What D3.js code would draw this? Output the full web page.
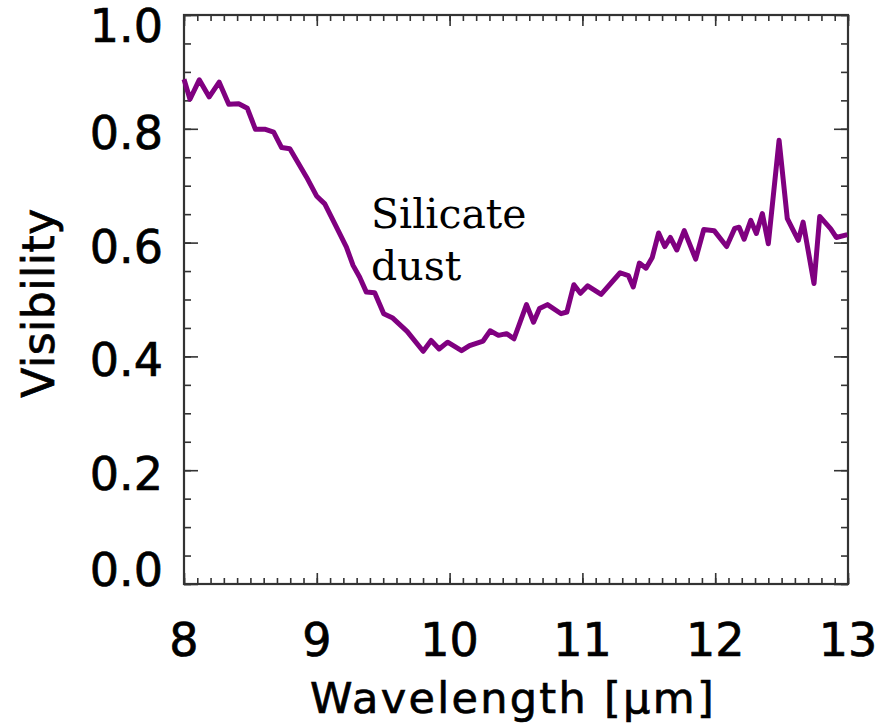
<!DOCTYPE html>
<html>
<head>
<meta charset="utf-8">
<script src="https://cdn.jsdelivr.net/npm/d3@7"></script>
<style>
  html, body { margin: 0; padding: 0; background: #fff; }
  svg { display: block; }
</style>
</head>
<body>
<svg id="chart" width="883" height="727"></svg>
<script>
// Visibility spectrum across the N band
const wavelength = [
  8.000, 8.045, 8.115, 8.190, 8.265, 8.337, 8.412, 8.477, 8.538, 8.613,
  8.675, 8.735, 8.797, 8.923, 8.998, 9.060, 9.148, 9.223, 9.273, 9.323,
  9.373, 9.436, 9.504, 9.568, 9.680, 9.801, 9.861, 9.921, 9.985, 10.090,
  10.150, 10.252, 10.305, 10.368, 10.429, 10.485, 10.579, 10.632, 10.677, 10.737,
  10.840, 10.883, 10.936, 10.985, 11.040, 11.141, 11.284, 11.346, 11.383, 11.429,
  11.479, 11.526, 11.574, 11.620, 11.662, 11.711, 11.767, 11.853, 11.914, 11.992,
  12.086, 12.147, 12.180, 12.218, 12.268, 12.310, 12.355, 12.400, 12.481, 12.543,
  12.626, 12.662, 12.744, 12.787, 12.870, 12.912, 12.995
];
const visibility = [
  0.887, 0.852, 0.886, 0.856, 0.882, 0.843, 0.844, 0.836, 0.799, 0.799,
  0.794, 0.767, 0.765, 0.715, 0.682, 0.668, 0.627, 0.592, 0.560, 0.539,
  0.513, 0.512, 0.475, 0.468, 0.444, 0.409, 0.428, 0.413, 0.425, 0.410,
  0.419, 0.427, 0.445, 0.437, 0.440, 0.431, 0.491, 0.460, 0.484, 0.491,
  0.475, 0.478, 0.526, 0.511, 0.524, 0.509, 0.547, 0.542, 0.522, 0.564,
  0.555, 0.574, 0.617, 0.593, 0.609, 0.587, 0.621, 0.571, 0.623, 0.621,
  0.593, 0.625, 0.627, 0.606, 0.639, 0.616, 0.651, 0.598, 0.780, 0.642,
  0.604, 0.636, 0.528, 0.646, 0.624, 0.609, 0.614
];
const xTicks = [8, 9, 10, 11, 12, 13];
const yTicks = [0.0, 0.2, 0.4, 0.6, 0.8, 1.0];
const xTickLabels = ["8", "9", "10", "11", "12", "13"];
const yTickLabels = ["0.0", "0.2", "0.4", "0.6", "0.8", "1.0"];
const annotationLines = ["Silicate", "dust"];

const svg = d3.select("#chart");
const margin = { left: 184, right: 35, top: 15, bottom: 143 };
const W = 883, H = 727;
const innerW = W - margin.left - margin.right;
const innerH = H - margin.top - margin.bottom;

const x = d3.scaleLinear().domain([8, 13]).range([0, innerW]);
const y = d3.scaleLinear().domain([0, 1]).range([innerH, 0]);

const g = svg.append("g").attr("transform", `translate(${margin.left},${margin.top})`);

const axisColor = "#333";
const tickFont = "'DejaVu Sans', sans-serif";

const xMinor = d3.range(80, 131).map(d => d / 10);
const yMinor = d3.range(0, 21).map(d => d / 20);

// Inward ticks on all four sides
function styleAxis(sel) {
  sel.select(".domain").remove();
  sel.selectAll(".tick line").attr("stroke", axisColor).attr("stroke-width", 1.6);
}

g.append("g").attr("transform", `translate(0,${innerH})`)
  .call(d3.axisBottom(x).tickValues(xMinor).tickSize(-6).tickFormat("")).call(styleAxis);
g.append("g").attr("transform", `translate(0,${innerH})`)
  .call(d3.axisBottom(x).tickValues(xTicks).tickSize(-11).tickFormat("")).call(styleAxis);
g.append("g")
  .call(d3.axisTop(x).tickValues(xMinor).tickSize(-6).tickFormat("")).call(styleAxis);
g.append("g")
  .call(d3.axisTop(x).tickValues(xTicks).tickSize(-11).tickFormat("")).call(styleAxis);

g.append("g")
  .call(d3.axisLeft(y).tickValues(yMinor).tickSize(-7).tickFormat("")).call(styleAxis);
g.append("g")
  .call(d3.axisLeft(y).tickValues(yTicks).tickSize(-14).tickFormat("")).call(styleAxis);
g.append("g").attr("transform", `translate(${innerW},0)`)
  .call(d3.axisRight(y).tickValues(yMinor).tickSize(-7).tickFormat("")).call(styleAxis);
g.append("g").attr("transform", `translate(${innerW},0)`)
  .call(d3.axisRight(y).tickValues(yTicks).tickSize(-14).tickFormat("")).call(styleAxis);

// Frame
g.append("rect")
  .attr("x", 0).attr("y", 0).attr("width", innerW).attr("height", innerH)
  .attr("fill", "none").attr("stroke", axisColor).attr("stroke-width", 2.2);

// Tick labels (end labels nudged inward so they stay clear of the corners)
g.append("g").selectAll("text").data(xTicks).join("text")
  .attr("x", d => x(d)).attr("y", innerH + 72)
  .attr("text-anchor", "middle")
  .attr("font-family", tickFont).attr("font-size", 46)
  .attr("fill", "#000").attr("stroke", "#000").attr("stroke-width", 0.7)
  .text((d, i) => xTickLabels[i]);

const yNudge = d => (d === 1 ? 10 : d === 0 ? -15 : 3);
g.append("g").selectAll("text").data(yTicks).join("text")
  .attr("x", -21).attr("y", d => y(d) + yNudge(d) + 17)
  .attr("text-anchor", "end")
  .attr("font-family", tickFont).attr("font-size", 46)
  .attr("fill", "#000").attr("stroke", "#000").attr("stroke-width", 0.7)
  .text((d, i) => yTickLabels[i]);

// Axis titles
svg.append("text")
  .attr("x", margin.left + innerW / 2 - 3).attr("y", 713)
  .attr("text-anchor", "middle")
  .attr("font-family", tickFont).attr("font-size", 43)
  .attr("letter-spacing", 2.3)
  .attr("fill", "#000").attr("stroke", "#000").attr("stroke-width", 0.7)
  .text("Wavelength [μm]");

svg.append("text")
  .attr("transform", "translate(54,303) rotate(-90)")
  .attr("text-anchor", "middle")
  .attr("font-family", tickFont).attr("font-size", 44)
  .attr("letter-spacing", 0.5)
  .attr("fill", "#000").attr("stroke", "#000").attr("stroke-width", 0.7)
  .text("Visibility");

// Spectrum line
const pts = wavelength.map((w, i) => [w, visibility[i]]);
g.append("path")
  .datum(pts)
  .attr("fill", "none")
  .attr("stroke", "#800080")
  .attr("stroke-width", 5)
  .attr("stroke-linejoin", "round")
  .attr("d", d3.line().x(d => x(d[0])).y(d => y(d[1])));

// Annotation
svg.append("g").selectAll("text").data(annotationLines).join("text")
  .attr("x", 371).attr("y", (d, i) => 228 + i * 52)
  .attr("font-family", "'DejaVu Serif', serif").attr("font-size", 41)
  .attr("fill", "#000")
  .text(d => d);
</script>
</body>
</html>
